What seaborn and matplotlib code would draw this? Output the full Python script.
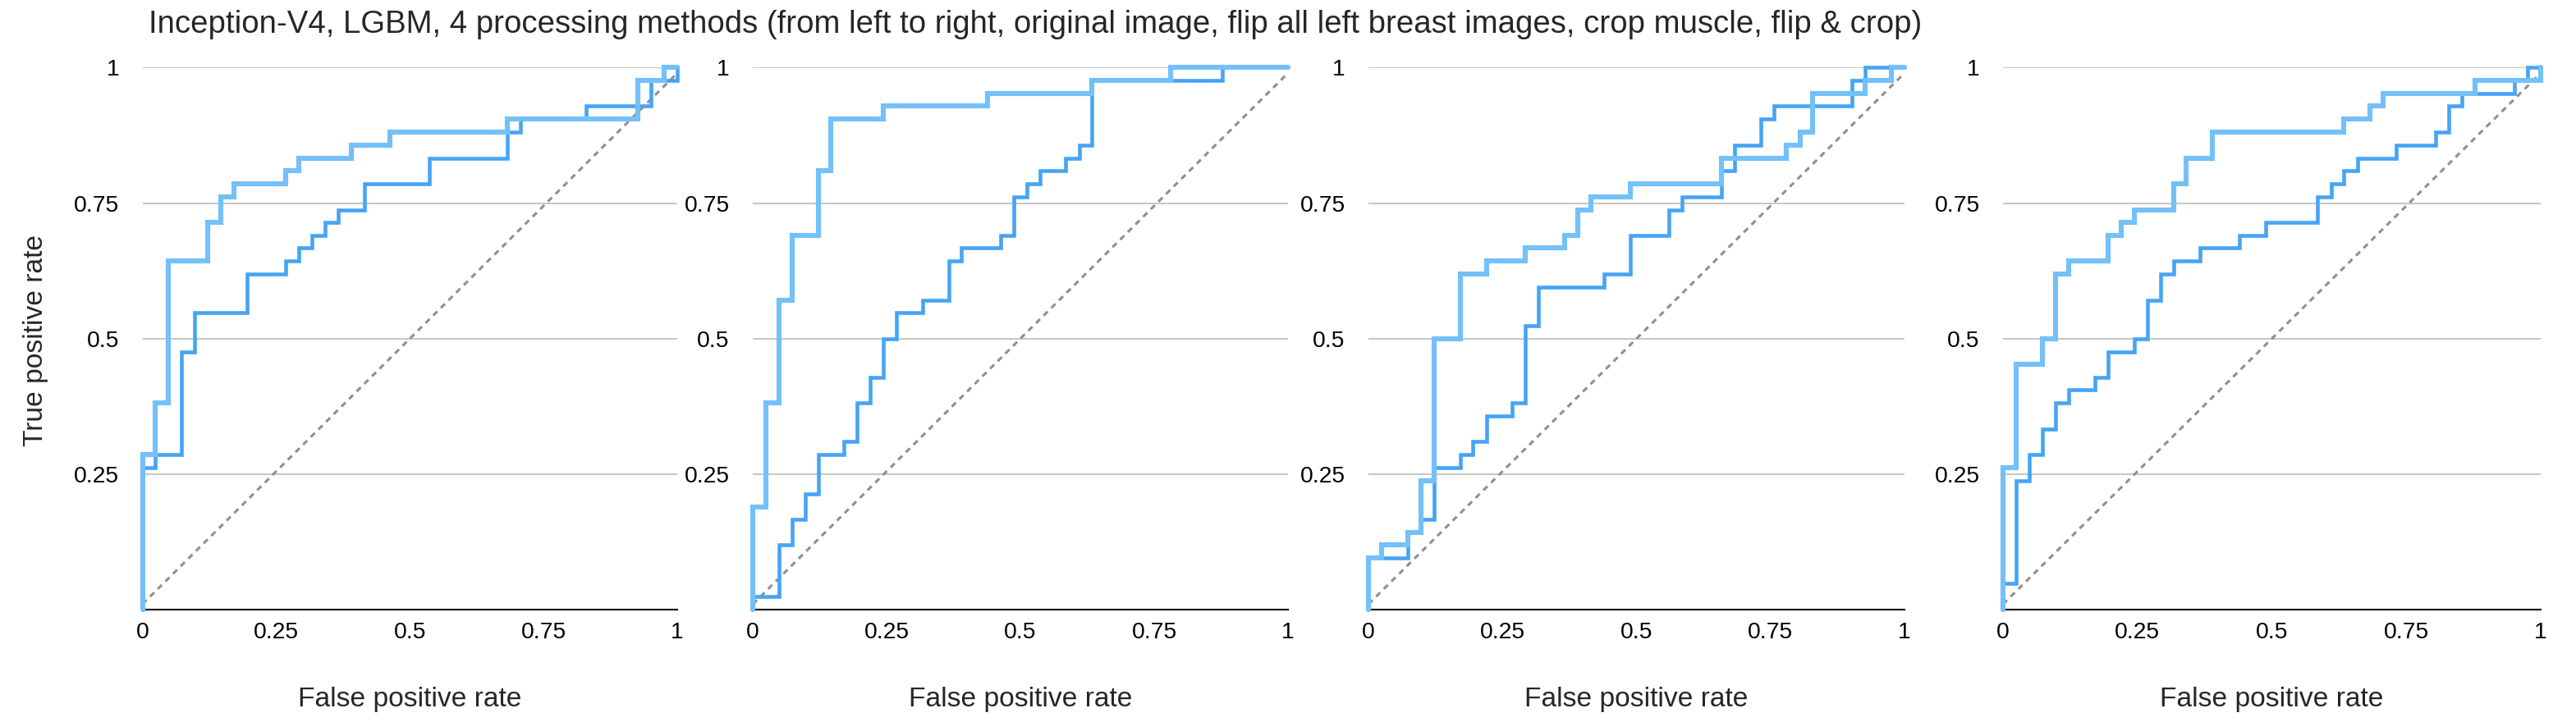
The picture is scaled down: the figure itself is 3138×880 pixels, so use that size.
import seaborn as sns
import matplotlib.pyplot as plt


# ROC curves: (fpr where the curve rises, tpr after the rise)
p1_dark_fpr = [0, 0, 0.024, 0.073, 0.098, 0.195, 0.268, 0.293, 0.317, 0.341, 0.366, 0.415, 0.537, 0.683, 0.707, 0.829, 0.951, 1.0]
p1_dark_tpr = [0, 0.262, 0.286, 0.476, 0.548, 0.619, 0.643, 0.667, 0.690, 0.714, 0.738, 0.786, 0.833, 0.881, 0.905, 0.929, 0.976, 1.0]
p1_light_fpr = [0, 0, 0.024, 0.049, 0.122, 0.146, 0.171, 0.268, 0.293, 0.390, 0.463, 0.683, 0.927, 0.976, 1.0]
p1_light_tpr = [0, 0.286, 0.381, 0.643, 0.714, 0.762, 0.786, 0.810, 0.833, 0.857, 0.881, 0.905, 0.976, 1.0, 1.0]

p2_dark_fpr = [0, 0, 0.049, 0.073, 0.098, 0.122, 0.171, 0.195, 0.220, 0.244, 0.268, 0.317, 0.366, 0.390, 0.463, 0.488, 0.512, 0.537, 0.585, 0.610, 0.634, 0.878, 1.0]
p2_dark_tpr = [0, 0.024, 0.119, 0.167, 0.214, 0.286, 0.310, 0.381, 0.429, 0.500, 0.548, 0.571, 0.643, 0.667, 0.690, 0.762, 0.786, 0.810, 0.833, 0.857, 0.976, 1.0, 1.0]
p2_light_fpr = [0, 0, 0.024, 0.049, 0.073, 0.122, 0.146, 0.244, 0.439, 0.634, 0.780, 1.0]
p2_light_tpr = [0, 0.190, 0.381, 0.571, 0.690, 0.810, 0.905, 0.929, 0.952, 0.976, 1.0, 1.0]

p3_dark_fpr = [0, 0, 0.073, 0.098, 0.122, 0.171, 0.195, 0.220, 0.268, 0.293, 0.317, 0.439, 0.488, 0.561, 0.585, 0.659, 0.683, 0.732, 0.756, 0.902, 0.927, 1.0]
p3_dark_tpr = [0, 0.095, 0.143, 0.167, 0.262, 0.286, 0.310, 0.357, 0.381, 0.524, 0.595, 0.619, 0.690, 0.738, 0.762, 0.810, 0.857, 0.905, 0.929, 0.976, 1.0, 1.0]
p3_light_fpr = [0, 0, 0.024, 0.073, 0.098, 0.122, 0.171, 0.220, 0.293, 0.366, 0.390, 0.415, 0.488, 0.659, 0.780, 0.805, 0.829, 0.927, 0.976, 1.0]
p3_light_tpr = [0, 0.095, 0.119, 0.143, 0.238, 0.500, 0.619, 0.643, 0.667, 0.690, 0.738, 0.762, 0.786, 0.833, 0.857, 0.881, 0.952, 0.976, 1.0, 1.0]

p4_dark_fpr = [0, 0, 0.024, 0.049, 0.073, 0.098, 0.122, 0.171, 0.195, 0.244, 0.268, 0.293, 0.317, 0.366, 0.439, 0.488, 0.585, 0.610, 0.634, 0.659, 0.732, 0.805, 0.829, 0.854, 0.951, 0.976, 1.0]
p4_dark_tpr = [0, 0.048, 0.238, 0.286, 0.333, 0.381, 0.405, 0.429, 0.476, 0.500, 0.571, 0.619, 0.643, 0.667, 0.690, 0.714, 0.762, 0.786, 0.810, 0.833, 0.857, 0.881, 0.929, 0.952, 0.976, 1.0, 1.0]
p4_light_fpr = [0, 0, 0.024, 0.073, 0.098, 0.122, 0.195, 0.220, 0.244, 0.317, 0.341, 0.390, 0.634, 0.683, 0.707, 0.878, 1.0]
p4_light_tpr = [0, 0.262, 0.452, 0.500, 0.619, 0.643, 0.690, 0.714, 0.738, 0.786, 0.833, 0.881, 0.905, 0.929, 0.952, 0.976, 1.0]

chance_x = [0, 1]
chance_y = [0.01, 0.99]

x_ticks = [0, 0.25, 0.5, 0.75, 1]
x_tick_labels = ['0', '0.25', '0.5', '0.75', '1']
y_ticks = [0.25, 0.5, 0.75, 1]
y_tick_labels = ['0.25', '0.5', '0.75', '1']

title = ('Inception-V4, LGBM, 4 processing methods (from left to right, original image, '
         'flip all left breast images, crop muscle, flip & crop)')

panels = [
    (p1_dark_fpr, p1_dark_tpr, p1_light_fpr, p1_light_tpr),
    (p2_dark_fpr, p2_dark_tpr, p2_light_fpr, p2_light_tpr),
    (p3_dark_fpr, p3_dark_tpr, p3_light_fpr, p3_light_tpr),
    (p4_dark_fpr, p4_dark_tpr, p4_light_fpr, p4_light_tpr),
]

sns.set_theme(style="white")
plt.rcParams['font.family'] = ['Liberation Sans', 'DejaVu Sans']

W, H = 3138, 880
fig = plt.figure(figsize=(W / 200, H / 200), dpi=200)

# panel edges in pixels
lefts = [173.5, 917, 1667, 2440]
rights = [825, 1569, 2320, 3095]
top_px, bottom_px = 82.5, 743

dark_color = '#45a4f5'
light_color = '#74c0f9'

for i, (dfpr, dtpr, lfpr, ltpr) in enumerate(panels):
    ax = fig.add_axes([lefts[i] / W, 1 - bottom_px / H,
                       (rights[i] - lefts[i]) / W, (bottom_px - top_px) / H])

    ax.plot(chance_x, chance_y, color='#8f8f8f', lw=1.1, linestyle=(0, (2.3, 2.0)), zorder=2)
    sns.lineplot(x=dfpr, y=dtpr, ax=ax, sort=False, estimator=None, drawstyle='steps-post',
                 color=dark_color, linewidth=1.65, clip_on=False, zorder=3,
                 solid_joinstyle='miter')
    sns.lineplot(x=lfpr, y=ltpr, ax=ax, sort=False, estimator=None, drawstyle='steps-post',
                 color=light_color, linewidth=2.2, clip_on=False, zorder=4,
                 solid_joinstyle='miter')

    ax.set_xlim(0, 1)
    ax.set_ylim(0, 1)
    ax.set_xticks(x_ticks)
    ax.set_xticklabels(x_tick_labels)
    ax.set_yticks(y_ticks)
    ax.set_yticklabels(y_tick_labels)
    ax.tick_params(axis='both', length=0, labelsize=10.2, colors='black')
    ax.tick_params(axis='x', pad=5.4)
    ax.tick_params(axis='y', pad=10.2)

    ax.grid(axis='y', color='#b5b5b5', linewidth=0.55)
    ax.grid(axis='x', visible=False)
    for side in ['top', 'right', 'left']:
        ax.spines[side].set_visible(False)
    ax.spines['bottom'].set_color('black')
    ax.spines['bottom'].set_linewidth(0.75)
    ax.set_axisbelow(True)

    ax.set_xlabel('False positive rate', fontsize=12.1, va='baseline')
    ax.xaxis.set_label_coords(0.5, -0.178)
    if i == 0:
        ax.set_ylabel('True positive rate', fontsize=12.1, va='center')
        ax.yaxis.set_label_coords(-0.199, 0.497)
    else:
        ax.set_ylabel('')

fig.text(181 / W, 1 - 40 / H, title, fontsize=13.8, ha='left', va='baseline')

fig.savefig('out.png', dpi=200, facecolor='white')
